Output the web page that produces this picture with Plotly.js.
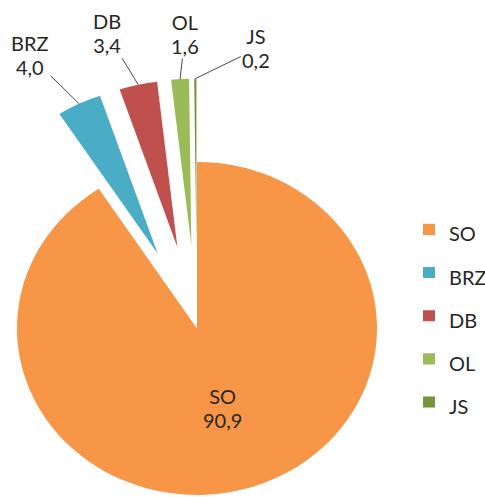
<!DOCTYPE html>
<html>
<head>
<meta charset="utf-8">
<script src="https://cdn.plot.ly/plotly-3.0.1.min.js"></script>
<style>
  html, body { margin: 0; padding: 0; overflow: hidden; width: 485px; height: 497px; background: #fff; }
  /* the reference pie is slightly flattened, so the whole chart is squeezed vertically */
  #chart { position: absolute; left: -80px; top: 0; transform: scaleY(0.925); transform-origin: 0 0; }
</style>
</head>
<body>
<div id="chart"></div>
<script>
const labels = ["SO", "BRZ", "DB", "OL", "JS"];
const shares = [90.9, 4.0, 3.4, 1.6, 0.2];
const colors = ["#F79646", "#4BACC6", "#C0504D", "#9BBB59", "#77933C"];
const pulls = [0, 0.5, 0.5, 0.5, 0.5];
const positions = ["inside", "none", "none", "none", "none"];
// pixel offset of each outside label from its slice (null = label drawn by the pie itself)
const labelOffsets = [null, [-49, -52], [-31, -55], [5, -49], [61, -32]];

const fontFamily = "Lato, 'Open Sans', sans-serif";
const textColor = "#262626";
const textFont = { family: fontFamily, size: 20, color: textColor };

// bigger legend font only to space the entries; the visible text stays at 20px
const styledLabels = labels.map(l => `<span style="font-size:20px">${l}</span>`);

const trace = {
    type: "pie",
    labels: styledLabels,
    values: shares,
    sort: false,
    direction: "clockwise",
    rotation: 0,
    pull: pulls,
    marker: { colors: colors, line: { width: 0 } },
    texttemplate: "%{label}<br>%{value:.1f}",
    textposition: positions,
    insidetextorientation: "horizontal",
    textfont: textFont,
    hoverinfo: "skip",
    domain: { x: [0, 1], y: [0, 1] }
};

// outside labels with leader lines, placed at the outer edge of each pulled slice
const total = shares.reduce((a, b) => a + b, 0);
const maxPull = Math.max(...pulls);
const rPaper = 1 / (2 + 2 * maxPull);
const annotations = [];
let cum = 0;
shares.forEach((v, i) => {
    const mid = (cum + v / 2) / total * 2 * Math.PI;
    cum += v;
    if (!labelOffsets[i]) return;
    const rr = rPaper * (1 + pulls[i]);
    annotations.push({
        xref: "paper", yref: "paper",
        x: 0.5 + rr * Math.sin(mid),
        y: 0.5 + rr * Math.cos(mid),
        ax: labelOffsets[i][0],
        ay: labelOffsets[i][1],
        text: labels[i] + "<br>" + v.toFixed(1).replace(".", ","),
        font: textFont,
        align: "center",
        showarrow: true,
        arrowhead: 0,
        arrowwidth: 1,
        arrowcolor: "#404040",
        standoff: 0,
        startstandoff: 0
    });
});

const layout = {
    width: 640,
    height: 630,
    margin: { l: 7, r: 93, t: 85, b: 5, autoexpand: false },
    separators: ", ",
    paper_bgcolor: "#fff",
    showlegend: true,
    legend: {
        x: 0.8926,
        xanchor: "left",
        y: 0.5248,
        yanchor: "middle",
        font: { family: fontFamily, size: 33.6, color: textColor },
        bgcolor: "rgba(0,0,0,0)"
    },
    annotations: annotations,
    font: textFont
};

Plotly.newPlot("chart", [trace], layout, { displayModeBar: false, staticPlot: true });
</script>
</body>
</html>
